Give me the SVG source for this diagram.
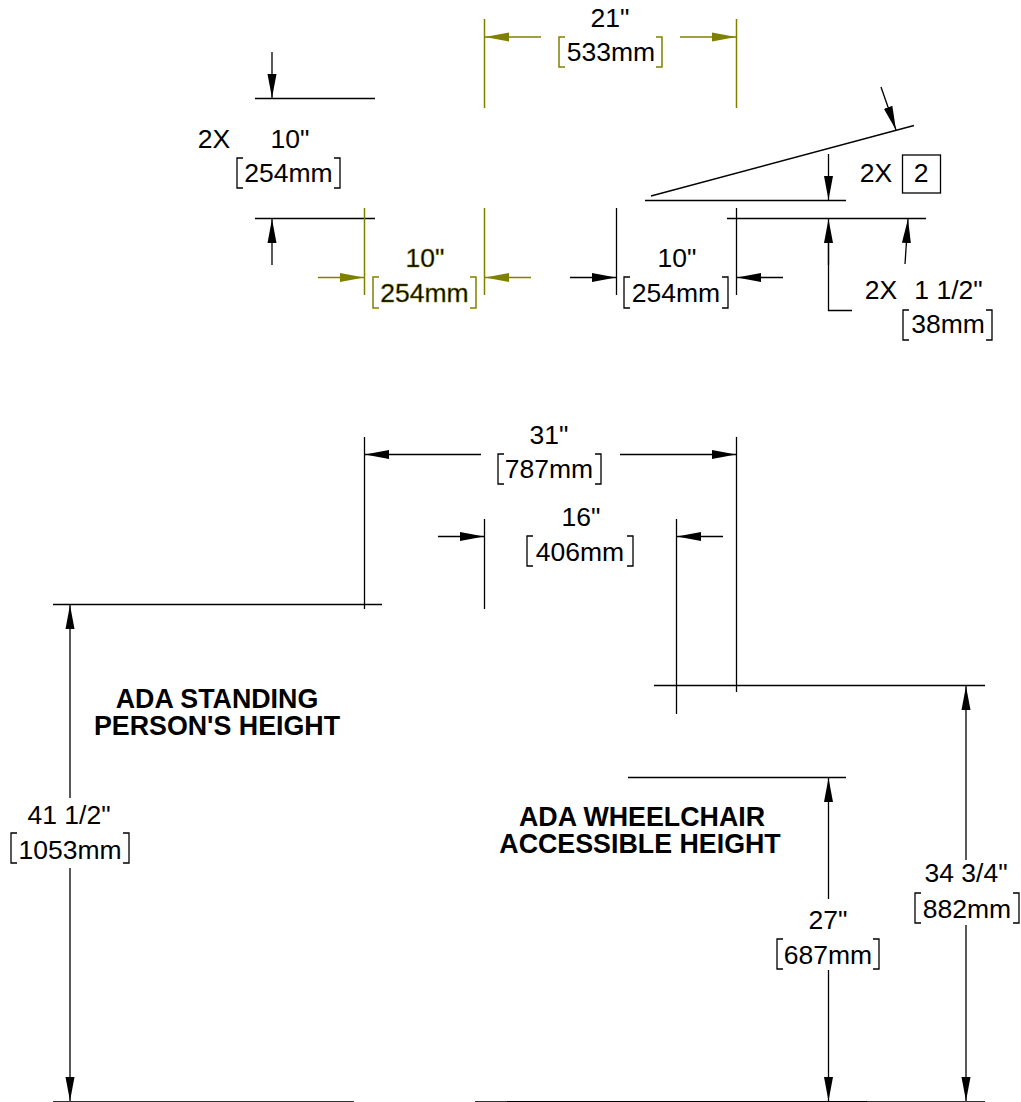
<svg xmlns="http://www.w3.org/2000/svg" width="1021" height="1102" viewBox="0 0 1021 1102">
<style>
text{font-family:"Liberation Sans",Arial,sans-serif;font-size:26.5px;fill:#000;text-anchor:middle}
.b{font-weight:bold;font-size:26.8px}
.ol{stroke:#808000;stroke-width:.5px}
line,path{fill:none;stroke:#000;stroke-width:1.3}
.o line,.o path{stroke:#808000;stroke-width:1.5}
.a{marker-end:url(#ak)}
.o .a{marker-end:url(#ao)}
</style>
<defs>
<marker id="ak" markerUnits="userSpaceOnUse" markerWidth="26" markerHeight="12" refX="24" refY="5" orient="auto"><path d="M24,5 L0,0.500 L0,9.500 Z" style="fill:#000;stroke:none"/></marker>
<marker id="ao" markerUnits="userSpaceOnUse" markerWidth="26" markerHeight="12" refX="24" refY="5" orient="auto"><path d="M24,5 L0,0.500 L0,9.500 Z" style="fill:#808000;stroke:none"/></marker>
</defs>
<g id="connectors">
<g id="top-left-height">
<line x1="255" y1="98.500" x2="375" y2="98.500"/><line x1="255" y1="218.500" x2="375" y2="218.500"/>
<line class="a" x1="272" y1="52" x2="272" y2="98"/><line class="a" x1="272" y1="265" x2="272" y2="219"/>
</g>
<g id="olive-dims" class="o">
<line x1="484.500" y1="19" x2="484.500" y2="108"/><line x1="736.500" y1="19" x2="736.500" y2="108"/>
<line class="a" x1="541" y1="37" x2="485" y2="37"/><line class="a" x1="680" y1="37" x2="736" y2="37"/>
<line x1="364.500" y1="208" x2="364.500" y2="295"/><line x1="484.500" y1="208" x2="484.500" y2="295"/>
<line class="a" x1="318" y1="277.500" x2="364" y2="277.500"/><line class="a" x1="531" y1="277.500" x2="485" y2="277.500"/>
<path d="M379,277 H373 V308 H379"/><path d="M470,277 H476 V308 H470"/>
<path d="M565,37 H559 V67 H565"/><path d="M656,37 H662 V67 H656"/>
</g>
<g id="top-right-dims">
<line x1="616.500" y1="208" x2="616.500" y2="295"/><line x1="736.500" y1="208" x2="736.500" y2="295"/>
<line class="a" x1="570" y1="277.500" x2="616" y2="277.500"/><line class="a" x1="783" y1="277.500" x2="737" y2="277.500"/>
<line x1="645" y1="200.500" x2="846" y2="200.500"/><line x1="727" y1="218.500" x2="926" y2="218.500"/>
<line x1="651" y1="196" x2="914" y2="125.500"/>
<line class="a" x1="881" y1="87" x2="896" y2="130"/>
<line class="a" x1="828.500" y1="154" x2="828.500" y2="200"/>
<path d="M852,310.500 H828.500 V240"/><line class="a" x1="828.500" y1="265" x2="828.500" y2="219"/>
<line class="a" x1="905" y1="264" x2="908" y2="219"/>
</g>
<g id="lower-dims">
<line x1="364.500" y1="437" x2="364.500" y2="609"/><line x1="736.500" y1="437" x2="736.500" y2="692"/>
<line class="a" x1="481" y1="454.500" x2="365" y2="454.500"/><line class="a" x1="620" y1="454.500" x2="736" y2="454.500"/>
<line x1="484.500" y1="519" x2="484.500" y2="609"/><line x1="676.500" y1="519" x2="676.500" y2="714"/>
<line class="a" x1="438" y1="536.500" x2="484" y2="536.500"/><line class="a" x1="723" y1="536.500" x2="677" y2="536.500"/>
<line x1="53" y1="604.500" x2="382" y2="604.500"/><line x1="654" y1="685.500" x2="985" y2="685.500"/><line x1="628" y1="777.500" x2="846" y2="777.500"/>
<line x1="53" y1="1101.500" x2="354" y2="1101.500" style="stroke-width:.8"/><line x1="475" y1="1101.500" x2="985" y2="1101.500" style="stroke-width:.8"/><line x1="507" y1="1101.500" x2="867" y2="1101.500" style="stroke-width:1"/>
<line class="a" x1="70" y1="798" x2="70" y2="605"/><line class="a" x1="70" y1="868" x2="70" y2="1101"/>
<line class="a" x1="828.500" y1="899" x2="828.500" y2="778"/><line class="a" x1="828.500" y1="970" x2="828.500" y2="1101"/>
<line class="a" x1="966" y1="860" x2="966" y2="686"/><line class="a" x1="966" y1="925" x2="966" y2="1101"/>
</g>
<g id="brackets">
<path d="M243,158 H237 V188 H243"/><path d="M334,158 H340 V188 H334"/>
<path d="M630,277 H624 V308 H630"/><path d="M722,277 H728 V308 H722"/>
<path d="M909,310 H903 V340 H909"/><path d="M986,310 H992 V340 H986"/>
<path d="M504,454 H498 V484 H504"/><path d="M595,454 H601 V484 H595"/>
<path d="M533,536 H527 V566 H533"/><path d="M627,536 H633 V566 H627"/>
<path d="M17,833 H11 V863 H17"/><path d="M123,833 H129 V863 H123"/>
<path d="M921,893 H915 V923 H921"/><path d="M1013,893 H1019 V923 H1013"/>
<path d="M783,939 H777 V969 H783"/><path d="M873,939 H879 V969 H873"/>
<rect x="902.500" y="155" width="38" height="38" fill="none" stroke="#000" stroke-width="1.3"/>
</g>
</g>
<g id="labels">
<text x="214" y="148">2X</text><text x="290" y="148">10"</text><text x="288.500" y="182">254mm</text>
<text class="ol" x="425" y="267">10"</text><text class="ol" x="424.500" y="302">254mm</text>
<text x="610" y="27">21"</text><text x="611" y="61">533mm</text>
<text x="677" y="267">10"</text><text x="676" y="302">254mm</text>
<text x="876" y="182">2X</text><text x="921" y="182">2</text>
<text x="881" y="299">2X</text><text x="948.500" y="299">1 1/2"</text><text x="948" y="333">38mm</text>
<text x="549" y="444">31"</text><text x="549" y="478">787mm</text>
<text x="581" y="526">16"</text><text x="580" y="561">406mm</text>
<text x="69" y="824">41 1/2"</text><text x="70" y="859">1053mm</text>
<text x="966" y="882">34 3/4"</text><text x="967" y="918">882mm</text>
<text x="828" y="929">27"</text><text x="828" y="964">687mm</text>
<text class="b"><tspan x="217" y="708">ADA STANDING</tspan><tspan x="217" y="735">PERSON'S HEIGHT</tspan></text>
<text class="b"><tspan x="642" y="826">ADA WHEELCHAIR</tspan><tspan x="640" y="853">ACCESSIBLE HEIGHT</tspan></text>
</g>
</svg>
